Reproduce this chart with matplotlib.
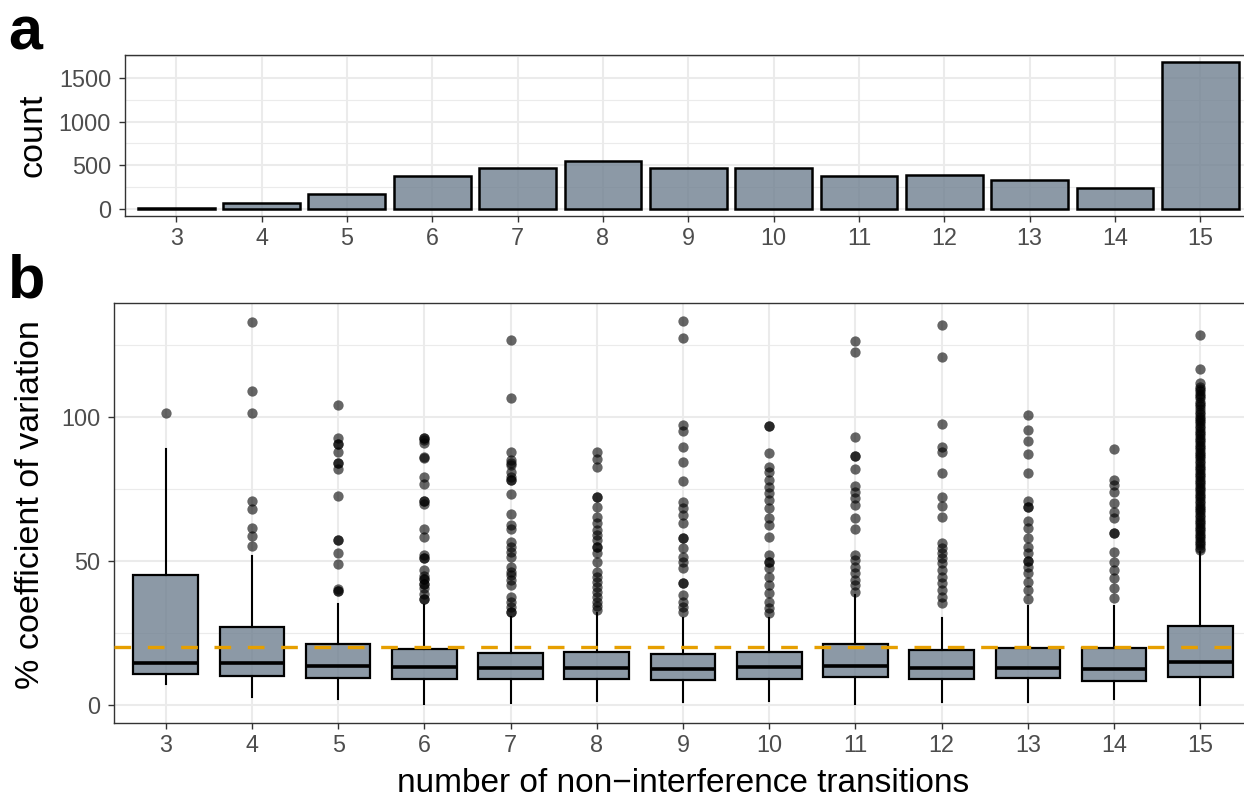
import matplotlib
matplotlib.use("Agg")
import matplotlib.pyplot as plt
from matplotlib.ticker import FixedLocator

plt.rcParams['font.family'] = ['Liberation Sans', 'DejaVu Sans']

# ---- data -------------------------------------------------------------
transitions = [3, 4, 5, 6, 7, 8, 9, 10, 11, 12, 13, 14, 15]
counts = [12, 69, 172, 371, 471, 543, 471, 467, 371, 387, 333, 241, 1680]

cv_q1 = [10.7, 10.0, 9.4, 9.0, 9.0, 9.0, 8.7, 9.2, 9.6, 8.9, 9.3, 8.4, 9.6]
cv_median = [14.5, 14.7, 13.5, 13.1, 13.0, 13.0, 12.4, 13.2, 13.5, 12.7, 13.0, 12.4, 15.0]
cv_q3 = [45.0, 27.0, 21.3, 19.3, 17.9, 18.5, 17.6, 18.3, 21.1, 19.0, 19.9, 19.7, 27.4]
cv_whisker_low = [7.2, 2.7, 2.0, 0.2, 0.6, 1.4, 1.0, 1.5, 0.2, 1.0, 0.9, 2.1, 0.0]
cv_whisker_high = [88.8, 51.9, 35.1, 34.7, 30.7, 31.8, 30.1, 30.1, 38.2, 30.1, 34.4, 34.4, 53.2]

outliers_3 = [101.3]
outliers_4 = [133.1, 109.0, 101.4, 70.8, 68.2, 61.3, 58.8, 55.1]
outliers_5 = [104.2, 92.7, 90.6, 90.6, 87.7, 84.1, 84.1, 81.9, 72.6, 57.4, 57.4,
              52.7, 49.0, 40.3, 39.6, 39.6]
outliers_6 = [92.8, 92.8, 92.1, 91.0, 86.2, 85.6, 79.2, 76.6, 70.9, 70.9, 69.9, 61.1,
              58.3, 52.1, 51.2, 51.2, 46.9, 44.8, 43.9, 43.9, 42.0, 42.0, 40.7,
              38.7, 36.7, 36.7]
outliers_7 = [126.7, 106.5, 88.0, 85.1, 83.9, 83.2, 81.0, 79.3, 78.1, 78.1, 73.3, 66.3,
              62.5, 61.0, 56.7, 55.0, 53.2, 51.5, 48.0, 46.3, 45.1, 43.4, 41.7,
              37.6, 35.9, 34.1, 32.4, 32.4]
outliers_8 = [88.0, 85.3, 82.5, 72.1, 72.1, 68.9, 65.4, 63.1, 60.8, 59.0, 57.3, 54.8,
              54.8, 52.7, 49.8, 46.3, 44.6, 42.8, 41.1, 39.4, 37.6, 35.9, 34.4, 33.0]
outliers_9 = [133.3, 127.3, 97.2, 95.1, 89.7, 84.5, 77.9, 70.6, 68.3, 66.0, 63.1,
              58.1, 58.1, 54.4, 51.5, 49.8, 47.5, 42.2, 42.2, 38.2, 35.9, 34.1, 32.4]
outliers_10 = [97.0, 97.0, 87.4, 82.8, 81.0, 78.1, 75.8, 73.5, 71.2, 68.3, 64.8, 62.5,
               58.4, 52.1, 49.8, 49.8, 47.5, 44.6, 41.7, 38.8, 35.9, 33.6, 32.1]
outliers_11 = [126.4, 122.6, 93.1, 86.6, 86.6, 81.9, 76.2, 74.1, 71.8, 69.4, 64.9,
               61.0, 52.1, 50.3, 48.0, 45.7, 43.4, 41.7, 39.4]
outliers_12 = [132.1, 120.9, 97.6, 89.5, 88.0, 80.5, 72.1, 69.1, 65.4, 56.1, 54.4,
               52.7, 50.9, 49.2, 46.9, 44.6, 42.2, 40.0, 37.6, 35.3]
outliers_13 = [100.6, 95.5, 91.8, 87.2, 80.5, 70.9, 68.9, 68.9, 64.0, 61.3, 57.9,
               55.0, 52.7, 50.1, 50.1, 48.0, 45.7, 42.8, 40.0, 36.7]
outliers_14 = [88.8, 78.1, 76.4, 74.1, 70.2, 67.1, 64.8, 59.6, 59.6, 53.2, 49.8,
               46.9, 44.0, 40.5, 37.0]
outliers_15 = [128.5, 116.7, 111.7, 110.6, 109.8, 108.9, 108.1, 107.2, 106.5, 105.3,
               104.6, 103.8, 102.7, 101.9, 101.2, 100.1, 99.4, 98.5, 97.8, 96.9,
               96.1, 95.2, 94.6, 93.7, 92.8, 92.1, 91.3, 90.4, 89.6, 88.9, 88.0,
               87.2, 86.5, 85.6, 84.8, 83.9, 83.1, 82.4, 81.5, 80.7, 79.8, 79.1,
               78.2, 77.4, 76.7, 75.8, 75.1, 74.2, 73.4, 72.5, 71.8, 70.9, 70.1,
               69.2, 68.5, 67.6, 66.9, 66.0, 65.2, 64.3, 63.6, 62.7, 61.9, 61.2,
               60.3, 59.5, 58.6, 57.9, 57.1, 56.2, 55.4, 54.6, 53.9]
cv_outliers = [outliers_3, outliers_4, outliers_5, outliers_6, outliers_7, outliers_8,
               outliers_9, outliers_10, outliers_11, outliers_12, outliers_13,
               outliers_14, outliers_15]

cv_threshold = 20

# ---- figure -----------------------------------------------------------
W, H = 1244, 797
fig = plt.figure(figsize=(W / 100, H / 100), dpi=100)
fig.patch.set_facecolor('white')


def add_axes_px(left, top, right, bottom):
    return fig.add_axes([left / W, 1 - bottom / H, (right - left) / W, (bottom - top) / H])


FILL = (0.439, 0.502, 0.565, 0.8)   # slategray, semi-transparent
GRID = '#EBEBEB'
DARK = '#333333'
TICKTXT = '#4D4D4D'


def style_axes(ax, major_y, minor_y):
    ax.set_facecolor('white')
    for s in ax.spines.values():
        s.set_color(DARK)
        s.set_linewidth(1.0)
    ax.yaxis.set_major_locator(FixedLocator(major_y))
    ax.yaxis.set_minor_locator(FixedLocator(minor_y))
    ax.tick_params(axis='both', which='major', colors=DARK, labelcolor=TICKTXT,
                   labelsize=16.8, length=4.5, width=1.0)
    ax.tick_params(axis='y', which='minor', length=0)
    ax.tick_params(axis='x', pad=3.5)
    ax.tick_params(axis='y', pad=5.5)
    ax.grid(True, which='major', color=GRID, linewidth=1.5)
    ax.grid(True, which='minor', axis='y', color=GRID, linewidth=0.8)
    ax.set_axisbelow(True)
    ax.set_xlim(-0.6, len(transitions) - 1 + 0.6)
    ax.set_xticks(range(len(transitions)))
    ax.set_xticklabels([str(t) for t in transitions])


# panel a: number of cases per transition count
ax_a = add_axes_px(125, 55, 1251.5, 216)
style_axes(ax_a, [0, 500, 1000, 1500], [250, 750, 1250, 1750])
ax_a.bar(range(len(transitions)), counts, width=0.9, color=FILL,
         edgecolor='black', linewidth=1.8, zorder=2)
ax_a.set_ylim(-84, 1764)

# panel b: coefficient of variation per transition count
ax_b = add_axes_px(114, 302.7, 1252, 723.3)
style_axes(ax_b, [0, 50, 100], [25, 75, 125])
stats = []
for i in range(len(transitions)):
    stats.append(dict(med=cv_median[i], q1=cv_q1[i], q3=cv_q3[i],
                      whislo=cv_whisker_low[i], whishi=cv_whisker_high[i],
                      fliers=cv_outliers[i]))
ax_b.bxp(stats, positions=list(range(len(transitions))), widths=0.75,
         patch_artist=True, showcaps=False, manage_ticks=False,
         boxprops=dict(facecolor=FILL, edgecolor='black', linewidth=1.6),
         medianprops=dict(color='black', linewidth=2.6, solid_capstyle='butt'),
         whiskerprops=dict(color='black', linewidth=1.5),
         flierprops=dict(marker='o', markerfacecolor='black', markeredgecolor='none',
                         alpha=0.6, markersize=7.4))
ax_b.axhline(cv_threshold, color='#E69F00', linewidth=2.4, dashes=(5.0, 5.0), zorder=5)
ax_b.set_ylim(-6.35, 139.7)

# axis titles and panel tags
fig.text(33 / W, 1 - 135.5 / H, 'count', rotation=90, ha='center', va='center',
         fontsize=24.5, color='black')
fig.text(31 / W, 1 - 505 / H, '% coefficient of variation', rotation=90,
         ha='center', va='center', fontsize=24.5, color='black')
fig.text(683 / W, 1 - 783 / H, 'number of non\u2212interference transitions',
         ha='center', va='center', fontsize=24.0, color='black')
fig.text(8 / W, 1 - 49 / H, 'a', ha='left', va='baseline', fontsize=44,
         fontweight='bold', color='black')
fig.text(8 / W, 1 - 297 / H, 'b', ha='left', va='baseline', fontsize=44,
         fontweight='bold', color='black')

fig.savefig('out.png', dpi=100, facecolor='white')
